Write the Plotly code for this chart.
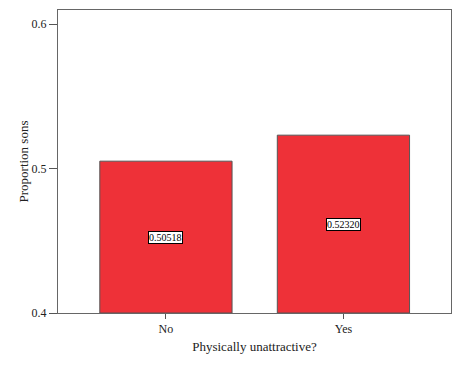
import plotly.graph_objects as go

categories = ["No", "Yes"]
values = [0.50518, 0.52320]
labels = ["0.50518", "0.52320"]
y_ticks = [0.4, 0.5, 0.6]
y_base = 0.4

fig = go.Figure()
fig.add_trace(go.Bar(
    x=categories, y=[v - y_base for v in values], base=y_base,
    marker=dict(color="#EE3138", line=dict(color="#555555", width=1)),
    width=0.745, hoverinfo="skip"))

for c, v, t in zip(categories, values, labels):
    fig.add_annotation(x=c, y=(y_base + v) / 2, text=t, showarrow=False,
                       font=dict(family="Liberation Serif", size=10, color="black"),
                       bgcolor="white", bordercolor="black", borderwidth=1, borderpad=0)

fig.update_layout(
    width=460, height=369,
    margin=dict(l=58, r=9, t=10, b=56),
    paper_bgcolor="white", plot_bgcolor="white",
    showlegend=False,
    font=dict(family="Liberation Serif", color="#222222"),
    xaxis=dict(range=[-0.608, 1.606], showline=True, linecolor="#666666", linewidth=1,
               mirror=True, ticks="outside", ticklen=5, tickcolor="#555555",
               tickfont=dict(size=12), showgrid=False, zeroline=False,
               title=dict(text="Physically unattractive?", font=dict(size=13), standoff=6)),
    yaxis=dict(range=[0.4, 0.6099], showline=True, linecolor="#666666", linewidth=1,
               mirror=True, ticks="outside", ticklen=8, tickcolor="#555555",
               tickvals=y_ticks, ticktext=[str(t) for t in y_ticks],
               tickfont=dict(size=12), showgrid=False, zeroline=False,
               title=dict(text="Proportion sons", font=dict(size=13), standoff=0)),
)

fig.write_html("out.html",
               config={"displayModeBar": False, "responsive": False},
               post_script="document.documentElement.style.overflow='hidden';document.body.style.margin='0';document.body.style.overflow='hidden';")
